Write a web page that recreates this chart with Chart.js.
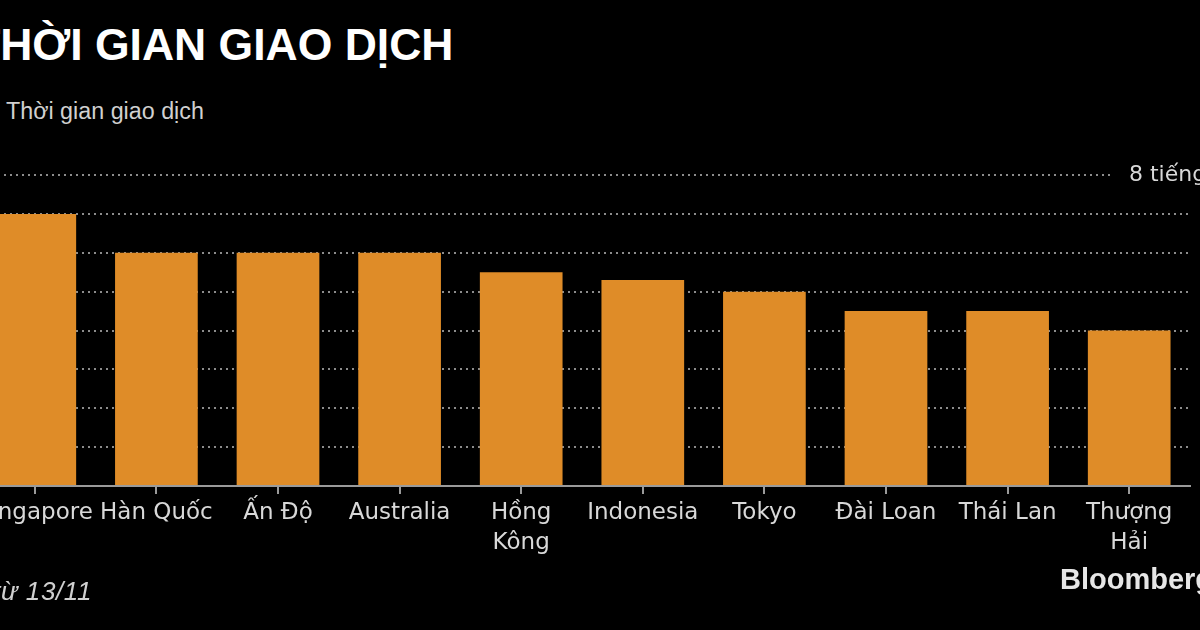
<!DOCTYPE html>
<html>
<head>
<meta charset="utf-8">
<script src="https://cdn.jsdelivr.net/npm/chart.js@4/dist/chart.umd.min.js"></script>
<style>
  html, body {
    margin: 0;
    padding: 0;
    background: #000;
    width: 1200px;
    height: 630px;
    overflow: hidden;
    position: relative;
    font-family: "Liberation Sans", Arial, sans-serif;
  }
  #chartWrap {
    position: absolute;
    left: -40px;
    top: 0;
    width: 1240px;
    height: 630px;
  }
  .title {
    position: absolute;
    left: -27px;
    top: 23px;
    font-size: 44.5px;
    line-height: 44px;
    font-weight: bold;
    color: #fff;
    white-space: nowrap;
  }
  .subtitle {
    position: absolute;
    left: 6px;
    top: 100px;
    font-size: 23.3px;
    line-height: 23px;
    color: #d0d0d0;
    white-space: nowrap;
  }
  .note {
    position: absolute;
    right: 1108px;
    top: 578px;
    font-size: 26px;
    line-height: 26px;
    font-style: italic;
    color: #d0d0d0;
    white-space: nowrap;
    letter-spacing: 0.6px;
  }
  .source {
    position: absolute;
    left: 1060px;
    top: 565px;
    font-size: 29px;
    line-height: 29px;
    font-weight: bold;
    color: #e6e6e6;
    white-space: nowrap;
  }
</style>
</head>
<body>
<div class="title">THỜI GIAN GIAO DỊCH</div>
<div class="subtitle">Thời gian giao dịch</div>
<div id="chartWrap"><canvas id="hoursChart" width="1240" height="630"></canvas></div>
<div class="note">Tính từ 13/11</div>
<div class="source">Bloomberg</div>

<script>
// Data
const categories = ['Singapore', 'Hàn Quốc', 'Ấn Độ', 'Australia', ['Hồng', 'Kông'], 'Indonesia', 'Tokyo', 'Đài Loan', 'Thái Lan', ['Thượng', 'Hải']];
const hours = [7, 6, 6, 6, 5.5, 5.3, 5, 4.5, 4.5, 4];
const yMax = 8;
const yStep = 1;
const topTickLabel = '8 tiếng';

// Draws the only y label ("8 tiếng") over the top grid line
const topLabelPlugin = {
    id: 'topLabel',
    afterDraw(chart) {
        const ctx = chart.ctx;
        const area = chart.chartArea;
        const y = chart.scales.y.getPixelForValue(yMax);
        const x = area.right - 61;
        ctx.save();
        ctx.fillStyle = '#000';
        ctx.fillRect(x - 16, y - 6, chart.width - x + 16, 12);
        ctx.font = '22px "DejaVu Sans"';
        ctx.fillStyle = '#d8d8d8';
        ctx.textBaseline = 'middle';
        ctx.textAlign = 'left';
        ctx.fillText(topTickLabel, x, y);
        ctx.restore();
    }
};

const ctx = document.getElementById('hoursChart').getContext('2d');
const hoursChart = new Chart(ctx, {
    type: 'bar',
    data: {
        labels: categories,
        datasets: [{
            data: hours,
            backgroundColor: '#df8c28',
            borderWidth: 0,
            barPercentage: 0.68,
            categoryPercentage: 1
        }]
    },
    options: {
        responsive: false,
        animation: false,
        devicePixelRatio: 1,
        layout: {
            padding: { left: 14, right: 10, top: 175, bottom: 54 }
        },
        scales: {
            x: {
                grid: {
                    offset: false,
                    drawOnChartArea: false,
                    drawTicks: true,
                    tickLength: 8,
                    color: '#9a9a9a',
                    lineWidth: 2
                },
                border: {
                    display: true,
                    color: '#9a9a9a',
                    width: 2
                },
                ticks: {
                    color: '#d8d8d8',
                    padding: 4,
                    maxRotation: 0,
                    autoSkip: false,
                    font: { family: '"DejaVu Sans"', size: 23, lineHeight: 1.3 }
                },
                afterFit(scale) {
                    scale.height = 90;
                }
            },
            y: {
                min: 0,
                max: yMax,
                ticks: { display: false, stepSize: yStep },
                grid: {
                    color: '#8c8c8c',
                    lineWidth: 2,
                    drawTicks: false
                },
                border: {
                    display: false,
                    dash: [2, 4]
                }
            }
        },
        plugins: {
            legend: { display: false },
            tooltip: { enabled: false }
        }
    },
    plugins: [topLabelPlugin]
});
</script>
</body>
</html>
